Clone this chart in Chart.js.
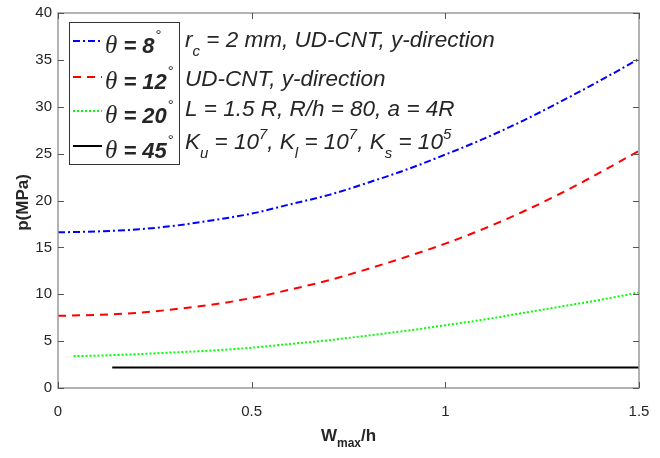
<!DOCTYPE html>
<html>
<head>
<meta charset="utf-8">
<script src="https://cdn.jsdelivr.net/npm/chart.js@4.4.1/dist/chart.umd.min.js"></script>
<style>
    body { margin: 0; background: #fff; }
    #wrap { width: 660px; height: 458px; }
</style>
</head>
<body>
<div id="wrap"><canvas id="pChart" width="660" height="458"></canvas></div>
<script>
// W_max/h values
const wmax = [0, 0.1, 0.2, 0.3, 0.4, 0.5, 0.6, 0.7, 0.8, 0.9, 1.0, 1.1, 1.2, 1.3, 1.4, 1.5];
const p8 = [16.6, 16.7, 16.9, 17.3, 17.9, 18.6, 19.6, 20.6, 21.9, 23.3, 24.9, 26.6, 28.5, 30.6, 32.8, 35.1];
const p12 = [7.7, 7.8, 8.0, 8.4, 8.9, 9.6, 10.5, 11.5, 12.7, 14.0, 15.4, 17.0, 18.8, 20.8, 23.0, 25.3];
const wmax20 = [0.04, 0.1, 0.2, 0.3, 0.4, 0.5, 0.6, 0.7, 0.8, 0.9, 1.0, 1.1, 1.2, 1.3, 1.4, 1.5];
const p20 = [3.4, 3.45, 3.6, 3.8, 4.0, 4.3, 4.7, 5.1, 5.6, 6.1, 6.7, 7.3, 8.0, 8.7, 9.4, 10.2];
const wmax45 = [0.14, 0.5, 1.0, 1.5];
const p45 = [2.2, 2.2, 2.2, 2.2];
const thetaLabels = ['8', '12', '20', '45'];
const xTicks = [0, 0.5, 1, 1.5];

const textColor = '#262626';
const axisColor = '#999999';

function pts(xs, ys) {
    return xs.map((x, i) => ({ x: x, y: ys[i] }));
}

// draw a run of text pieces with their own font and vertical shift
function drawRich(ctx, x, y, parts) {
    parts.forEach(p => {
        ctx.font = p.font;
        ctx.fillText(p.t, x + (p.dx || 0), y + (p.dy || 0));
        x += ctx.measureText(p.t).width + (p.dx || 0);
    });
    return x;
}

const frame = {
    id: 'frame',
    afterDraw(chart) {
        const ctx = chart.ctx;
        const a = chart.chartArea;
        const xs = chart.scales.x, ys = chart.scales.y;
        ctx.save();
        ctx.strokeStyle = axisColor;
        ctx.lineWidth = 1.5;
        ctx.strokeRect(a.left, a.top, a.right - a.left, a.bottom - a.top);
        ctx.lineWidth = 1;
        ctx.strokeStyle = '#555';
        ctx.beginPath();
        xs.ticks.forEach(t => {
            const px = Math.round(xs.getPixelForValue(t.value)) + 0.5;
            ctx.moveTo(px, a.bottom); ctx.lineTo(px, a.bottom - 6);
            ctx.moveTo(px, a.top); ctx.lineTo(px, a.top + 6);
        });
        ys.ticks.forEach(t => {
            const py = Math.round(ys.getPixelForValue(t.value)) + 0.5;
            ctx.moveTo(a.left, py); ctx.lineTo(a.left + 6, py);
            ctx.moveTo(a.right, py); ctx.lineTo(a.right - 6, py);
        });
        ctx.stroke();

        // axis titles
        ctx.fillStyle = textColor;
        ctx.textBaseline = 'alphabetic';
        ctx.textAlign = 'left';
        const bold = 'bold 17px "Liberation Sans", Arial, sans-serif';
        const sub = 'bold 12px "Liberation Sans", Arial, sans-serif';
        ctx.font = bold;
        let w = ctx.measureText('W').width + ctx.measureText('/h').width;
        ctx.font = sub;
        w += ctx.measureText('max').width;
        const cx = (a.left + a.right) / 2;
        drawRich(ctx, cx - w / 2, 441, [
            { t: 'W', font: bold },
            { t: 'max', font: sub, dy: 6 },
            { t: '/h', font: bold }
        ]);
        ctx.save();
        ctx.translate(28, (a.top + a.bottom) / 2 + 2);
        ctx.rotate(-Math.PI / 2);
        ctx.textAlign = 'center';
        ctx.font = bold;
        ctx.fillText('p(MPa)', 0, 0);
        ctx.restore();

        // legend box
        const lx = 69, ly = 22, lw = 110, lh = 142;
        ctx.fillStyle = '#fff';
        ctx.fillRect(lx, ly, lw, lh);
        ctx.strokeStyle = '#333';
        ctx.lineWidth = 1;
        ctx.strokeRect(lx + 0.5, ly + 0.5, lw, lh);
        const rowY = [41, 77, 111, 146];
        chart.data.datasets.forEach((ds, i) => {
            const y = rowY[i];
            ctx.strokeStyle = ds.borderColor;
            ctx.lineWidth = ds.borderWidth;
            ctx.setLineDash(ds.borderDash || []);
            ctx.beginPath();
            ctx.moveTo(73, y); ctx.lineTo(102, y);
            ctx.stroke();
            ctx.setLineDash([]);
            ctx.fillStyle = textColor;
            drawRich(ctx, 105, y + 12, [
                { t: '\u03B8', font: 'italic 25px "Liberation Serif", "Times New Roman", serif' },
                { t: ' = ' + thetaLabels[i], font: 'italic bold 22px "Liberation Sans", Arial, sans-serif' },
                { t: '\u00B0', font: '15px "Liberation Sans", Arial, sans-serif', dx: 1, dy: -13 }
            ]);
        });

        // parameter notes
        const it = 'italic 22.5px "Liberation Sans", Arial, sans-serif';
        const its = 'italic 15px "Liberation Sans", Arial, sans-serif';
        ctx.fillStyle = textColor;
        drawRich(ctx, 185, 47, [
            { t: 'r', font: it }, { t: 'c', font: its, dy: 9 },
            { t: ' = 2 mm, UD-CNT, y-direction', font: it }
        ]);
        drawRich(ctx, 185, 86, [{ t: 'UD-CNT, y-direction', font: it }]);
        drawRich(ctx, 185, 116, [{ t: 'L = 1.5 R, R/h = 80, a = 4R', font: it }]);
        drawRich(ctx, 185, 149, [
            { t: 'K', font: it }, { t: 'u', font: its, dy: 9 },
            { t: ' = 10', font: it }, { t: '7', font: its, dy: -10 },
            { t: ', K', font: it }, { t: 'l', font: its, dy: 9 },
            { t: ' = 10', font: it }, { t: '7', font: its, dy: -10 },
            { t: ', K', font: it }, { t: 's', font: its, dy: 9 },
            { t: ' = 10', font: it }, { t: '5', font: its, dy: -10 }
        ]);
        ctx.restore();
    }
};

const tickFont = { family: '"Liberation Sans", Arial, sans-serif', size: 15 };

new Chart(document.getElementById('pChart').getContext('2d'), {
    type: 'line',
    data: {
        datasets: [
            { label: '\u03B8 = 8\u00B0', data: pts(wmax, p8), borderColor: '#0000ff', borderWidth: 2, borderDash: [7, 3, 2, 3] },
            { label: '\u03B8 = 12\u00B0', data: pts(wmax, p12), borderColor: '#ff0000', borderWidth: 2, borderDash: [8, 6] },
            { label: '\u03B8 = 20\u00B0', data: pts(wmax20, p20), borderColor: '#00ff00', borderWidth: 2, borderDash: [2, 2] },
            { label: '\u03B8 = 45\u00B0', data: pts(wmax45, p45), borderColor: '#000000', borderWidth: 2 }
        ]
    },
    options: {
        responsive: false,
        animation: false,
        layout: { padding: { top: 13, right: 21, left: 0, bottom: 0 } },
        elements: {
            point: { radius: 0 },
            line: { cubicInterpolationMode: 'monotone', fill: false }
        },
        plugins: { legend: { display: false }, tooltip: { enabled: false } },
        scales: {
            x: {
                type: 'linear',
                min: 0, max: 1.5,
                afterBuildTicks: s => { s.ticks = xTicks.map(v => ({ value: v })); },
                afterFit: s => { s.height = 70; s.paddingLeft = 0; s.paddingRight = 0; },
                grid: { display: false, drawTicks: false },
                border: { display: false },
                ticks: { color: textColor, font: tickFont, padding: 15, maxRotation: 0, callback: v => String(v) }
            },
            y: {
                min: 0, max: 40,
                afterFit: s => { s.width = 58; s.paddingTop = 0; s.paddingBottom = 0; },
                grid: { display: false, drawTicks: false },
                border: { display: false },
                ticks: { color: textColor, font: tickFont, padding: 6, stepSize: 5 }
            }
        }
    },
    plugins: [frame]
});
</script>
</body>
</html>
